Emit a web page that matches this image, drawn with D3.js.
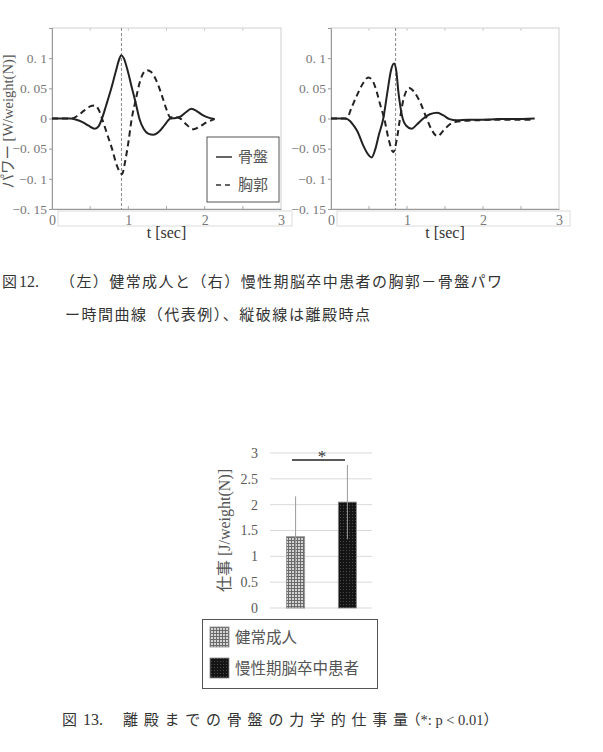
<!DOCTYPE html>
<html>
<head>
<meta charset="utf-8">
<script src="https://cdn.jsdelivr.net/npm/d3@7"></script>
<style>
  body { margin: 0; background: #fff; }
  svg { display: block; }
</style>
</head>
<body>
<div id="chart"></div>
<script>
const WIDTH = 603;
const HEIGHT = 752;
const SERIF = '"Liberation Serif", "Noto Sans CJK JP", serif';
const JP = '"Liberation Serif", "Noto Sans CJK JP", sans-serif';

// --- 図12: power-time curves ---
const timeTicks = [0, 1, 2, 3];
const timeTickLabels = ["0", "1", "2", "3"];
const powerTicks = [-0.15, -0.1, -0.05, 0, 0.05, 0.1];
const powerTickLabels = ["\u22120.\u00a015", "\u22120.\u00a01", "\u22120.\u00a005", "0", "0.\u00a005", "0.\u00a01"];
const seriesNames = ["骨盤", "胸郭"];

// left: healthy adult
const healthyLiftOff = 0.91;
const healthyPelvisT = [0, 0.24, 0.32, 0.40, 0.48, 0.56, 0.61, 0.655, 0.71, 0.777, 0.84, 0.88, 0.908, 0.94, 0.99, 1.048, 1.10, 1.144, 1.20, 1.26, 1.33, 1.40, 1.48, 1.55, 1.62, 1.68, 1.75, 1.825, 1.90, 1.98, 2.06, 2.13];
const healthyPelvisP = [0, 0, -0.002, -0.006, -0.012, -0.017, -0.013, 0, 0.022, 0.05, 0.08, 0.098, 0.105, 0.1, 0.08, 0.05, 0.024, 0, -0.017, -0.025, -0.027, -0.022, -0.01, 0, 0.001, 0.003, 0.01, 0.016, 0.012, 0.005, 0.001, -0.001];
const healthyThoraxT = [0, 0.26, 0.34, 0.42, 0.50, 0.56, 0.61, 0.655, 0.72, 0.786, 0.85, 0.917, 0.96, 1.0, 1.045, 1.09, 1.15, 1.20, 1.245, 1.30, 1.37, 1.44, 1.50, 1.55, 1.62, 1.68, 1.76, 1.856, 1.94, 2.03, 2.13];
const healthyThoraxP = [0, 0, 0.005, 0.013, 0.02, 0.0217, 0.015, 0, -0.025, -0.05, -0.078, -0.092, -0.07, -0.04, 0, 0.027, 0.06, 0.076, 0.08, 0.077, 0.062, 0.038, 0.015, 0.002, 0.002, 0, -0.01, -0.018, -0.013, -0.006, -0.001];

// right: chronic stroke patient
const strokeLiftOff = 0.85;
const strokePelvisT = [0, 0.184, 0.25, 0.30, 0.35, 0.425, 0.48, 0.535, 0.58, 0.63, 0.688, 0.74, 0.79, 0.829, 0.86, 0.886, 0.915, 0.943, 0.99, 1.061, 1.13, 1.215, 1.30, 1.40, 1.48, 1.56, 1.654, 1.8, 2.0, 2.2, 2.4, 2.68];
const strokePelvisP = [0, 0, -0.004, -0.012, -0.022, -0.045, -0.058, -0.0645, -0.052, -0.027, 0, 0.042, 0.08, 0.091, 0.078, 0.045, 0.018, 0, -0.012, -0.017, -0.01, 0, 0.007, 0.0094, 0.005, -0.001, -0.003, -0.002, -0.002, -0.001, -0.001, 0];
const strokeThoraxT = [0, 0.206, 0.27, 0.34, 0.42, 0.491, 0.55, 0.60, 0.645, 0.70, 0.76, 0.82, 0.865, 0.908, 0.96, 1.03, 1.10, 1.18, 1.259, 1.33, 1.40, 1.48, 1.56, 1.63, 1.75, 1.9, 2.1, 2.3, 2.5, 2.65];
const strokeThoraxP = [0, 0, 0.018, 0.038, 0.058, 0.068, 0.062, 0.045, 0.024, 0, -0.035, -0.056, -0.035, 0, 0.035, 0.0506, 0.043, 0.025, 0, -0.02, -0.0295, -0.02, -0.01, -0.006, -0.004, -0.003, -0.002, -0.002, -0.002, -0.002];

// --- 図13: work until lift-off ---
const groups = ["健常成人", "慢性期脳卒中患者"];
const workMean = [1.38, 2.05];
const workSD = [0.78, 0.72];
const workTicks = [0, 0.5, 1, 1.5, 2, 2.5, 3];
const workTickLabels = ["0", "0.5", "1", "1.5", "2", "2.5", "3"];

const svg = d3.select("#chart")
    .append("svg")
        .attr("width", WIDTH)
        .attr("height", HEIGHT)
        .style("background", "#fff");

const defs = svg.append("defs");
const pGrid = defs.append("pattern").attr("id", "pGrid")
    .attr("width", 3).attr("height", 3).attr("patternUnits", "userSpaceOnUse");
pGrid.append("rect").attr("width", 3).attr("height", 3).attr("fill", "#d4d4d4");
pGrid.append("path").attr("d", "M0 0.5H3M0.5 0V3").attr("stroke", "#6a6a6a").attr("stroke-width", 1);
const pDots = defs.append("pattern").attr("id", "pDots")
    .attr("width", 3).attr("height", 3).attr("patternUnits", "userSpaceOnUse");
pDots.append("rect").attr("width", 3).attr("height", 3).attr("fill", "#141414");
pDots.append("rect").attr("x", 1).attr("y", 1).attr("width", 1).attr("height", 1).attr("fill", "#4a4a4a");

function zip(ts, ps) { return ts.map((t, i) => [t, ps[i]]); }

function drawPanel(left, right, liftOff, pelvis, thorax, opts) {
    const x = d3.scaleLinear().domain([0, 3]).range([left, right]);
    const y = d3.scaleLinear().domain([-0.15, 0.15]).range([209, 28]);
    const g = svg.append("g");

    // frame
    g.append("rect")
        .attr("x", left).attr("y", y(0.15))
        .attr("width", right - left).attr("height", y(-0.15) - y(0.15))
        .attr("fill", "none").attr("stroke", "#cfcfcf");

    // box under the x axis
    g.append("rect")
        .attr("x", x(0) + 6).attr("y", 211)
        .attr("width", x(3) - x(0) + 5).attr("height", 15)
        .attr("fill", "none").attr("stroke", "#dcdcdc");

    // small inner ticks on bottom and top
    const minor = d3.range(0.5, 3, 0.5);
    g.selectAll(".mb").data(minor).enter().append("line")
        .attr("x1", d => x(d)).attr("x2", d => x(d))
        .attr("y1", y(-0.15)).attr("y2", y(-0.15) - 3)
        .attr("stroke", "#aaa");
    g.selectAll(".mt").data(minor).enter().append("line")
        .attr("x1", d => x(d)).attr("x2", d => x(d))
        .attr("y1", y(0.15)).attr("y2", y(0.15) + 3)
        .attr("stroke", "#ccc");

    const yAxis = g.append("g")
        .attr("transform", `translate(${left},0)`)
        .call(d3.axisLeft(y).tickValues(powerTicks)
            .tickFormat((d, i) => powerTickLabels[i]).tickSize(3).tickPadding(2));
    yAxis.select(".domain").attr("stroke", "#999");
    yAxis.selectAll(".tick line").attr("stroke", "#999");
    yAxis.selectAll("text").attr("fill", "#777").style("font-family", SERIF).style("font-size", "13.5px");

    const xAxis = g.append("g")
        .attr("transform", `translate(0,${y(-0.15)})`)
        .call(d3.axisBottom(x).tickValues(timeTicks)
            .tickFormat((d, i) => timeTickLabels[i]).tickSize(0).tickPadding(6));
    xAxis.select(".domain").attr("stroke", "#999");
    xAxis.selectAll("text").attr("fill", "#777").style("font-family", SERIF).style("font-size", "14px");

    g.append("text")
        .attr("x", (left + right) / 2).attr("y", 238)
        .attr("text-anchor", "middle")
        .style("font-family", SERIF).style("font-size", "16px").attr("fill", "#333")
        .text("t [sec]");

    // lift-off time
    g.append("line")
        .attr("x1", x(liftOff)).attr("x2", x(liftOff))
        .attr("y1", y(0.15)).attr("y2", y(-0.15))
        .attr("stroke", "#888").attr("stroke-width", 1).attr("stroke-dasharray", "3,2");

    const line = d3.line()
        .x(d => x(d[0]))
        .y(d => y(d[1]))
        .curve(d3.curveMonotoneX);

    g.append("path").datum(thorax)
        .attr("d", line).attr("fill", "none")
        .attr("stroke", "#222").attr("stroke-width", 2).attr("stroke-dasharray", "6,4");
    g.append("path").datum(pelvis)
        .attr("d", line).attr("fill", "none")
        .attr("stroke", "#222").attr("stroke-width", 2);

    if (opts.yLabel) {
        g.append("text")
            .attr("transform", `translate(13,${(y(0.15) + y(-0.15)) / 2 + 3}) rotate(-90)`)
            .attr("text-anchor", "middle")
            .style("font-family", JP).style("font-size", "14.5px").attr("fill", "#555")
            .text(opts.yLabel);
    }

    if (opts.legend) {
        const lg = g.append("g");
        lg.append("rect")
            .attr("x", 207).attr("y", 137).attr("width", 72).attr("height", 65)
            .attr("fill", "#fff").attr("stroke", "#555");
        seriesNames.forEach((name, i) => {
            const ly = 157 + i * 28;
            lg.append("line")
                .attr("x1", 216).attr("x2", 232).attr("y1", ly).attr("y2", ly)
                .attr("stroke", "#333").attr("stroke-width", 1.5)
                .attr("stroke-dasharray", i === 0 ? null : "5,4");
            lg.append("text")
                .attr("x", 238).attr("y", ly).attr("dy", "0.35em")
                .style("font-family", JP).style("font-size", "15px").attr("fill", "#555")
                .text(name);
        });
    }
}

drawPanel(52, 281, healthyLiftOff,
    zip(healthyPelvisT, healthyPelvisP), zip(healthyThoraxT, healthyThoraxP),
    { yLabel: "パワー [W/weight(N)]", legend: true });
drawPanel(331, 559, strokeLiftOff,
    zip(strokePelvisT, strokePelvisP), zip(strokeThoraxT, strokeThoraxP),
    {});

// caption 12
const cap = svg.append("g").style("font-family", JP).style("font-size", "15px").attr("fill", "#333");
cap.append("text").attr("x", 2).attr("y", 287).text("図");
cap.append("text").attr("x", 19).attr("y", 287).style("font-size", "16px").text("12.");
cap.append("text").attr("x", 60).attr("y", 287)
    .attr("textLength", 442).attr("lengthAdjust", "spacing")
    .text("（左）健常成人と（右）慢性期脳卒中患者の胸郭－骨盤パワ");
cap.append("text").attr("x", 65).attr("y", 320)
    .attr("textLength", 305).attr("lengthAdjust", "spacing")
    .text("ー時間曲線（代表例）、縦破線は離殿時点");

// --- bar chart ---
const by = d3.scaleLinear().domain([0, 3]).range([608, 453]);
const bx = d3.scaleBand().domain(groups).range([271, 372]).paddingInner(0.65).paddingOuter(0.3);
const patterns = ["url(#pGrid)", "url(#pDots)"];
const bars = groups.map((g, i) => ({ group: g, mean: workMean[i], sd: workSD[i], fill: patterns[i] }));

const bg = svg.append("g");
bg.selectAll(".grid").data(workTicks).enter().append("line")
    .attr("x1", 270).attr("x2", 372)
    .attr("y1", d => by(d)).attr("y2", d => by(d))
    .attr("stroke", "#d9d9d9");

const bAxis = bg.append("g")
    .attr("transform", "translate(262,0)")
    .call(d3.axisLeft(by).tickValues(workTicks).tickFormat((d, i) => workTickLabels[i]).tickSize(0).tickPadding(4));
bAxis.select(".domain").remove();
bAxis.selectAll("text").attr("fill", "#595959").style("font-family", SERIF).style("font-size", "14px");

bg.selectAll(".bar").data(bars).enter().append("rect")
    .attr("x", d => bx(d.group))
    .attr("y", d => by(d.mean))
    .attr("width", bx.bandwidth())
    .attr("height", d => by(0) - by(d.mean))
    .attr("fill", d => d.fill)
    .attr("stroke", "#8a8a8a").attr("stroke-width", 0.8);

bg.selectAll(".err").data(bars).enter().append("line")
    .attr("x1", d => bx(d.group) + bx.bandwidth() / 2)
    .attr("x2", d => bx(d.group) + bx.bandwidth() / 2)
    .attr("y1", d => by(d.mean - d.sd))
    .attr("y2", d => by(d.mean + d.sd))
    .attr("stroke", "#9a9a9a").attr("stroke-width", 1);

// significance
bg.append("line")
    .attr("x1", 292).attr("x2", 345).attr("y1", 460).attr("y2", 460)
    .attr("stroke", "#222").attr("stroke-width", 1.5);
bg.append("text")
    .attr("x", 322).attr("y", 462).attr("text-anchor", "middle")
    .style("font-family", SERIF).style("font-size", "17px").attr("fill", "#333")
    .text("*");

bg.append("text")
    .attr("transform", `translate(230,${(by(0) + by(3)) / 2}) rotate(-90)`)
    .attr("text-anchor", "middle")
    .style("font-family", JP).style("font-size", "16px").attr("fill", "#555")
    .text("仕事 [J/weight(N)]");

// legend
const bl = bg.append("g");
bl.append("rect")
    .attr("x", 202.5).attr("y", 619.5).attr("width", 175).attr("height", 69)
    .attr("fill", "#fff").attr("stroke", "#555");
bars.forEach((d, i) => {
    const ly = 627 + i * 31;
    bl.append("rect")
        .attr("x", 210).attr("y", ly).attr("width", 19).attr("height", 20)
        .attr("fill", d.fill).attr("stroke", "#8a8a8a").attr("stroke-width", 0.8);
    bl.append("text")
        .attr("x", 235).attr("y", ly + 11).attr("dy", "0.35em")
        .style("font-family", JP).style("font-size", "15.5px").attr("fill", "#555")
        .text(d.group);
});

// caption 13
const cap2 = svg.append("g").style("font-family", JP).style("font-size", "15px").attr("fill", "#333");
cap2.append("text").attr("x", 62).attr("y", 725).text("図");
cap2.append("text").attr("x", 83).attr("y", 725).style("font-size", "16px").text("13.");
cap2.append("text").attr("x", 123).attr("y", 725)
    .attr("textLength", 285).attr("lengthAdjust", "spacing")
    .text("離殿までの骨盤の力学的仕事量");
cap2.append("text").attr("x", 406).attr("y", 725).style("font-size", "14.5px")
    .text("（*: p < 0.01）");
</script>
</body>
</html>
